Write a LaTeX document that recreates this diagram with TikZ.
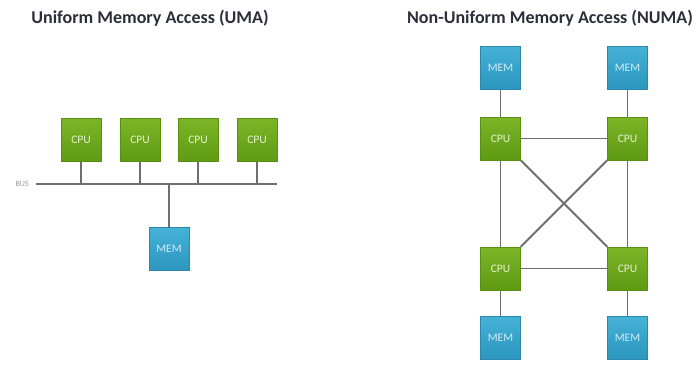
\documentclass[tikz,border=0pt]{standalone}
\usepackage{fontspec}
\setmainfont{Carlito}
\definecolor{cpuA}{HTML}{7CB526}
\definecolor{cpuB}{HTML}{5F9A14}
\definecolor{cpuEdge}{HTML}{5A9012}
\definecolor{memA}{HTML}{45B2D6}
\definecolor{memB}{HTML}{2C96BE}
\definecolor{memEdge}{HTML}{2A88AE}
\definecolor{wire}{HTML}{6E6E6E}
\definecolor{titlec}{HTML}{2B2F3A}
\begin{document}
\begin{tikzpicture}[x=1pt,y=-1pt,
  cpubox/.style={rectangle, minimum width=40pt, minimum height=43pt, inner sep=0pt,
    top color=cpuA, bottom color=cpuB, draw=cpuEdge, line width=0.4pt,
    text=white!80!cpuA, font=\fontsize{11.5}{13}\selectfont},
  membox/.style={rectangle, minimum width=40pt, minimum height=43pt, inner sep=0pt,
    top color=memA, bottom color=memB, draw=memEdge, line width=0.4pt,
    text=white!75!memA, font=\fontsize{11.5}{13}\selectfont},
  wireline/.style={draw=wire, line width=1.8pt},
  title/.style={font=\bfseries\fontsize{18}{21}\selectfont, text=titlec}]
\useasboundingbox[fill=white] (0,0) rectangle (699,365);

% titles
\node[title] (t1) at (150,18) {Uniform Memory Access (UMA)};
\node[title] (t2) at (550,18) {Non-Uniform Memory Access (NUMA)};

% UMA
\node[cpubox] (c1) at (81,140) {CPU};
\node[cpubox] (c2) at (140,140) {CPU};
\node[cpubox] (c3) at (198,140) {CPU};
\node[cpubox] (c4) at (257,140) {CPU};
\node[membox] (m0) at (169,249) {MEM};
\coordinate (busL) at (36,184);
\coordinate (busR) at (277,184);
\node[font=\fontsize{8}{9}\selectfont, text=gray!80, anchor=east, inner sep=0pt] (buslbl) at (29,184) {BUS};
\draw[wireline] (busL) -- (busR);
\foreach \c in {c1,c2,c3,c4} \draw[wireline] (\c.south) -- (\c.south |- busL);
\draw[wireline] (m0.north) -- (m0.north |- busL);

% NUMA
\node[membox] (mA) at (500.5,67.5) {MEM};
\node[membox] (mB) at (627.5,67.5) {MEM};
\node[cpubox] (pA) at (500.5,138.5) {CPU};
\node[cpubox] (pB) at (627.5,138.5) {CPU};
\node[cpubox] (pC) at (500.5,268.5) {CPU};
\node[cpubox] (pD) at (627.5,268.5) {CPU};
\node[membox] (mC) at (500.5,337.5) {MEM};
\node[membox] (mD) at (627.5,337.5) {MEM};
\draw[wireline] (mA) -- (pA);
\draw[wireline] (mB) -- (pB);
\draw[wireline] (pC) -- (mC);
\draw[wireline] (pD) -- (mD);
\draw[wireline] (pA) -- (pB);
\draw[wireline] (pC) -- (pD);
\draw[wireline] (pA) -- (pC);
\draw[wireline] (pB) -- (pD);
\draw[wireline] (pA.south east) -- (pD.north west);
\draw[wireline] (pB.south west) -- (pC.north east);
% redraw boxes on top
\foreach \n in {pA,pB,pC,pD} \node[cpubox] at (\n) {CPU};
\foreach \n in {mA,mB,mC,mD} \node[membox] at (\n) {MEM};
\end{tikzpicture}
\end{document}
